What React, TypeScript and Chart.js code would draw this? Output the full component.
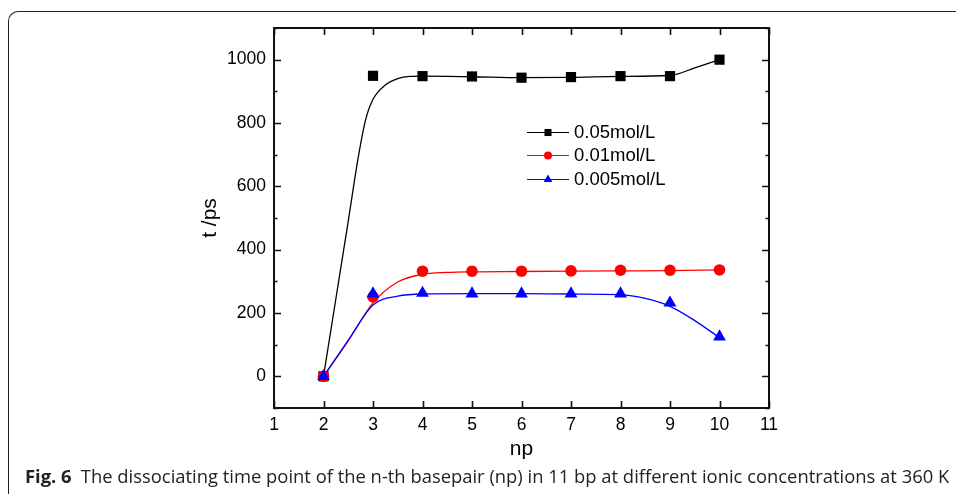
import React, { useEffect, useRef } from "react";
import { Chart, registerables } from "chart.js";

Chart.register(...registerables);

// ---- data ----
const npValues = [2, 3, 4, 5, 6, 7, 8, 9, 10];
const series005 = [0, 949, 948, 947, 943, 945, 948, 948, 1000];
const series001 = [0, 251, 332, 332, 332, 333, 335, 335, 336];
const series0005 = [0, 261, 263, 261, 261, 261, 261, 232, 125];

// fitted smooth curves
const curve005X = [2, 2.25, 2.5, 2.7, 2.85, 3, 3.25, 3.5, 3.75, 4, 5, 6, 7, 8, 9, 9.5, 10];
const curve005Y = [0, 245, 490, 690, 810, 875, 920, 940, 947, 948, 946, 943, 944, 947, 950, 974, 1000];
const curve001X = [2, 2.5, 3, 3.5, 4, 4.5, 5, 6, 7, 8, 9, 10];
const curve001Y = [0, 112, 232, 298, 322, 328, 330, 331, 332, 333, 334, 336];
const curve0005X = [2, 2.5, 3, 3.5, 4, 5, 6, 7, 8, 8.5, 9, 9.5, 10];
const curve0005Y = [0, 114, 225, 253, 260, 261, 261, 260, 258, 246, 221, 176, 122];

const seriesLabels = ["0.05mol/L", "0.01mol/L", "0.005mol/L"];
const seriesColors = ["#000000", "#ff0000", "#0000ff"];
const seriesMarkers = ["rect", "circle", "triangle"];

const xTicks = [1, 2, 3, 4, 5, 6, 7, 8, 9, 10, 11];
const yTicks = [0, 200, 400, 600, 800, 1000];
const yMinorTicks = [-100, 100, 300, 500, 700, 900, 1100];

const xTitle = "np";
const yTitle = "t /ps";
const captionBold = "Fig. 6";
const captionText = "The dissociating time point of the n-th basepair (np) in 11 bp at different ionic concentrations at 360 K";

const FONT = "'Liberation Sans', Arial, sans-serif";

function pts(xs: number[], ys: number[]) {
  return xs.map((x, i) => ({ x, y: ys[i] }));
}

function drawMarker(ctx: CanvasRenderingContext2D, style: string, x: number, y: number, r: number) {
  ctx.beginPath();
  if (style === "rect") {
    const s = r * Math.SQRT1_2;
    ctx.rect(x - s, y - s, 2 * s, 2 * s);
  } else if (style === "circle") {
    ctx.arc(x, y, r, 0, Math.PI * 2);
  } else {
    const w = (r * Math.sqrt(3)) / 2;
    ctx.moveTo(x, y - r);
    ctx.lineTo(x + w, y + r / 2);
    ctx.lineTo(x - w, y + r / 2);
    ctx.closePath();
  }
  ctx.fill();
}

const framePlugin = {
  id: "framePlugin",
  afterDraw(chart: any) {
    const { ctx, chartArea } = chart;
    const { left, right, top, bottom } = chartArea;
    const xs = chart.scales.x;
    const ys = chart.scales.y;
    ctx.save();
    ctx.strokeStyle = "#111";
    ctx.lineWidth = 2;
    ctx.strokeRect(left, top, right - left, bottom - top);
    ctx.lineWidth = 1.6;
    ctx.beginPath();
    const major = 7;
    const minor = 3.5;
    xTicks.forEach((v) => {
      const px = Math.round(xs.getPixelForValue(v)) + 0.5;
      ctx.moveTo(px, bottom);
      ctx.lineTo(px, bottom - major);
      ctx.moveTo(px, top);
      ctx.lineTo(px, top + major);
    });
    yTicks.forEach((v) => {
      const py = Math.round(ys.getPixelForValue(v)) + 0.5;
      ctx.moveTo(left, py);
      ctx.lineTo(left + major, py);
      ctx.moveTo(right, py);
      ctx.lineTo(right - major, py);
    });
    yMinorTicks.forEach((v) => {
      const py = Math.round(ys.getPixelForValue(v)) + 0.5;
      ctx.moveTo(left, py);
      ctx.lineTo(left + minor, py);
      ctx.moveTo(right, py);
      ctx.lineTo(right - minor, py);
    });
    ctx.stroke();

    // legend
    const lx0 = left + 253;
    const lx1 = left + 295;
    const tx = left + 300;
    const rows = [top + 104, top + 127, top + 151];
    ctx.font = `18.5px ${FONT}`;
    ctx.textBaseline = "middle";
    ctx.textAlign = "left";
    seriesLabels.forEach((lab, i) => {
      const y = rows[i];
      ctx.strokeStyle = seriesColors[i];
      ctx.lineWidth = 1.2;
      ctx.beginPath();
      ctx.moveTo(lx0, y + 0.5);
      ctx.lineTo(lx1, y + 0.5);
      ctx.stroke();
      ctx.fillStyle = seriesColors[i];
      drawMarker(ctx, seriesMarkers[i], (lx0 + lx1) / 2, y + 0.5, seriesMarkers[i] === "rect" ? 5 : seriesMarkers[i] === "circle" ? 4 : 5);
      ctx.fillStyle = "#000";
      ctx.fillText(lab, tx, y + 1);
    });
    ctx.restore();
  },
};

export default function App() {
  const ref = useRef<HTMLCanvasElement | null>(null);
  useEffect(() => {
    document.body.style.margin = "0";
    const canvas = ref.current;
    if (!canvas) return;
    const markerSets = [series005, series001, series0005].map((vals, i) => ({
      label: seriesLabels[i],
      data: pts(npValues, vals),
      showLine: false,
      pointStyle: seriesMarkers[i],
      pointRadius: seriesMarkers[i] === "rect" ? 7.2 : seriesMarkers[i] === "circle" ? 5.8 : 7.4,
      pointBackgroundColor: seriesColors[i],
      pointBorderColor: seriesColors[i],
      pointBorderWidth: 0,
      order: 2 - i,
    }));
    const curveSets = [
      [curve005X, curve005Y],
      [curve001X, curve001Y],
      [curve0005X, curve0005Y],
    ].map(([xs, ys], i) => ({
      label: seriesLabels[i] + " fit",
      data: pts(xs as number[], ys as number[]),
      showLine: true,
      borderColor: seriesColors[i],
      borderWidth: 1.3,
      pointRadius: 0,
      cubicInterpolationMode: "monotone" as const,
      order: 5 - i,
    }));
    const chart = new Chart(canvas, {
      type: "scatter",
      data: { datasets: [...markerSets, ...curveSets] as any },
      options: {
        responsive: false,
        animation: false,
        layout: { padding: { left: 0, right: 187, top: 28, bottom: 0 } },
        plugins: { legend: { display: false }, tooltip: { enabled: false } },
        scales: {
          x: {
            type: "linear",
            min: 1,
            max: 11,
            afterBuildTicks: (s: any) => {
              s.ticks = xTicks.map((v) => ({ value: v }));
            },
            afterFit: (s: any) => {
              s.height = 86;
            },
            grid: { display: false, drawTicks: false },
            border: { display: false },
            ticks: {
              padding: 6.5,
              color: "#000",
              font: { family: FONT, size: 17.5 },
              autoSkip: false,
              maxRotation: 0,
              callback: (v: any) => String(v),
            },
            title: {
              display: true,
              text: xTitle,
              color: "#000",
              font: { family: FONT, size: 21 },
              padding: { top: 0, bottom: 32 },
            },
          },
          y: {
            type: "linear",
            min: -100,
            max: 1100,
            afterBuildTicks: (s: any) => {
              s.ticks = yTicks.map((v) => ({ value: v }));
            },
            afterFit: (s: any) => {
              s.width = 274;
            },
            grid: { display: false, drawTicks: false },
            border: { display: false },
            ticks: {
              padding: 8,
              color: "#000",
              font: { family: FONT, size: 17.5 },
              callback: (v: any) => String(v),
            },
            title: {
              display: true,
              text: yTitle,
              color: "#000",
              font: { family: FONT, size: 21 },
              padding: { top: 198, bottom: 0 },
            },
          },
        },
      },
      plugins: [framePlugin],
    });
    return () => chart.destroy();
  }, []);

  return (
    <div style={{ position: "relative", width: 956, height: 494, overflow: "hidden", background: "#fff" }}>
      <div
        style={{
          position: "absolute",
          left: 8,
          top: 11,
          width: 1000,
          height: 600,
          borderTop: "1.5px solid #222",
          borderLeft: "1.5px solid #222",
          borderTopLeftRadius: 10,
        }}
      />
      <canvas ref={ref} width={956} height={494} style={{ position: "absolute", left: 0, top: 0 }} />
      <div
        style={{
          position: "absolute",
          left: 25,
          top: 465,
          whiteSpace: "nowrap",
          fontFamily: "'Open Sans', 'Noto Sans', sans-serif",
          fontSize: 18.4,
          color: "#222",
          lineHeight: "22px",
        }}
      >
        <b style={{ fontWeight: 700 }}>{captionBold}</b>
        <span>{"\u2002" + captionText}</span>
      </div>
    </div>
  );
}
